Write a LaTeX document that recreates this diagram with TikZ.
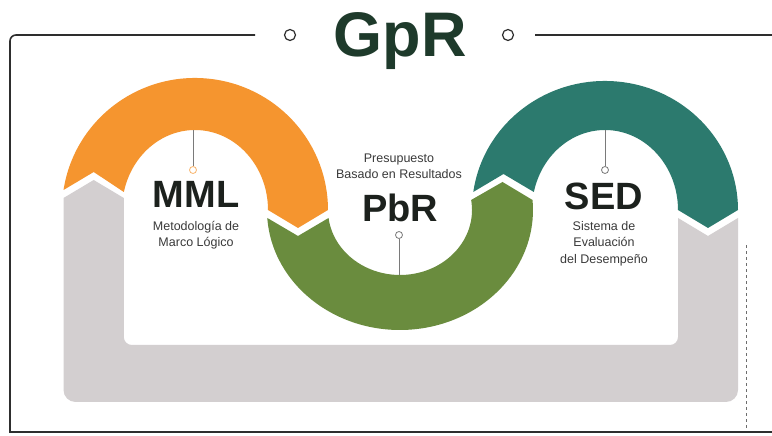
\documentclass[tikz,border=0pt]{standalone}
\usepackage{fontspec}
\setmainfont{Liberation Sans}
\definecolor{orangec}{HTML}{F5952F}
\definecolor{greenc}{HTML}{6A8C3E}
\definecolor{tealc}{HTML}{2C7A6E}
\definecolor{grayband}{HTML}{D3CFD0}
\definecolor{txtdark}{HTML}{1C211D}
\definecolor{titlec}{HTML}{1E3A2B}
\definecolor{txtgray}{HTML}{3A3A3A}
\definecolor{framec}{HTML}{2E2E2E}
\definecolor{dotgray}{HTML}{7A7A7A}
\begin{document}
\begin{tikzpicture}[x=1pt,y=1pt,
  bigtxt/.style={font=\bfseries\fontsize{38}{38}\selectfont, text=txtdark, inner sep=0pt, anchor=base},
  subtxt/.style={font=\fontsize{12.5}{15}\selectfont, text=txtgray, inner sep=0pt, anchor=base},
  dotc/.style={circle, draw=#1, line width=0.8pt, fill=white, minimum size=7pt, inner sep=0pt},
  stem/.style={draw=dotgray, line width=0.6pt},
  topdot/.style={circle, draw=framec, line width=1.2pt, fill=white, minimum size=11pt, inner sep=0pt},
  framel/.style={draw=framec, line width=1.6pt}]
\useasboundingbox (0,0) rectangle (772,436);
\fill[white] (0,0) rectangle (772,436);

% frame
\coordinate (fl) at (255,401);
\coordinate (fr) at (535,401);
\draw[framel] (fl) -- (16,401) arc[start angle=90,end angle=180,radius=6] -- (10,4) -- (772,4);
\draw[framel] (fr) -- (772,401);
\draw[framec!70, line width=0.8pt, dashed] (746,8) -- (746,192);
\node[topdot] (lc) at (290,401) {};
\node[topdot] (rc) at (508,401) {};
\node[font=\bfseries\fontsize{63}{63}\selectfont, text=titlec, inner sep=0pt, anchor=base] (gpr) at (400,379) {GpR};

% gray band
\fill[grayband] (63.5,238) -- (63.5,46) arc[start angle=180,end angle=270,radius=12]
  -- (726,34) arc[start angle=270,end angle=360,radius=12]
  -- (738,218) -- (708,200) -- (678,218)
  -- (678,99) arc[start angle=0,end angle=-90,radius=8]
  -- (131.8,91) arc[start angle=270,end angle=180,radius=8]
  -- (123.8,238) -- (93.7,256) -- cycle;

% orange arc
\fill[orangec] (63.53,246) arc[start angle=171.29,end angle=0,x radius=133,y radius=132]
  -- (298,208) -- (268,226)
  arc[start angle=0,end angle=167,x radius=73,y radius=80]
  -- (93.7,264) -- cycle;

% green arc
\fill[greenc] (267.29,218.05) arc[start angle=183.8,end angle=364.78,x radius=133,y radius=120]
  -- (502.5,254) -- (471.14,236)
  arc[start angle=368.85,end angle=187.07,x radius=72,y radius=65]
  -- (298,200) -- cycle;

% teal arc
\fill[tealc] (473.31,244.05) arc[start angle=171.96,end angle=0,x radius=133,y radius=129]
  -- (708,208) -- (678,226)
  arc[start angle=0,end angle=167,x radius=73,y radius=80]
  -- (503.5,262) -- cycle;

% MML
\coordinate (mmltop) at (193,306);
\node[dotc=orangec!70] (mmldot) at (193,266) {};
\draw[stem] (mmldot.north) -- (mmltop);
\node[bigtxt] (mml) at (196,228) {MML};
\node[subtxt] (mml1) at (196,205) {Metodología de};
\node[subtxt] (mml2) at (196,189) {Marco Lógico};

% PbR
\coordinate (pbrbot) at (399,161);
\node[dotc=dotgray] (pbrdot) at (399,201) {};
\draw[stem] (pbrdot.south) -- (pbrbot);
\node[bigtxt] (pbr) at (400,214) {PbR};
\node[subtxt] (pbr1) at (399,273) {Presupuesto};
\node[subtxt] (pbr2) at (399,257) {Basado en Resultados};

% SED
\coordinate (sedtop) at (605,306);
\node[dotc=dotgray] (seddot) at (605,266) {};
\draw[stem] (seddot.north) -- (sedtop);
\node[bigtxt] (sed) at (604,226) {SED};
\node[subtxt] (sed1) at (604,205) {Sistema de};
\node[subtxt] (sed2) at (604,189) {Evaluación};
\node[subtxt] (sed3) at (604,172) {del Desempeño};
\end{tikzpicture}
\end{document}
